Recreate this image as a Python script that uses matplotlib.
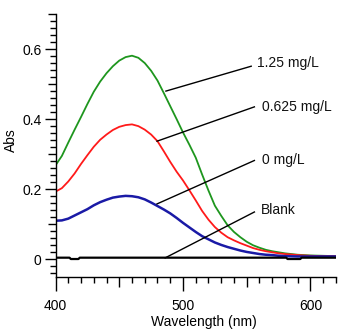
import matplotlib
matplotlib.use('Agg')
import matplotlib.pyplot as plt
from matplotlib.ticker import MultipleLocator, FixedLocator, FuncFormatter

plt.rcParams['font.family'] = ['Liberation Sans', 'DejaVu Sans']
plt.rcParams['font.size'] = 10

wavelength = [400, 405, 410, 415, 420, 425, 430, 435, 440, 445, 450, 455, 460,
              465, 470, 475, 480, 485, 490, 495, 500, 505, 510, 515, 520, 525,
              530, 535, 540, 545, 550, 555, 560, 565, 570, 575, 580, 590, 600,
              610, 620]
abs_125 = [0.268, 0.295, 0.333, 0.370, 0.406, 0.443, 0.478, 0.507, 0.531, 0.551,
           0.567, 0.577, 0.581, 0.575, 0.560, 0.538, 0.510, 0.474, 0.437, 0.400,
           0.362, 0.327, 0.290, 0.242, 0.196, 0.153, 0.124, 0.097, 0.078, 0.063,
           0.050, 0.040, 0.033, 0.027, 0.023, 0.020, 0.017, 0.013, 0.011, 0.010,
           0.009]
abs_0625 = [0.193, 0.203, 0.222, 0.245, 0.272, 0.297, 0.321, 0.341, 0.356, 0.369,
            0.378, 0.383, 0.385, 0.380, 0.370, 0.356, 0.337, 0.308, 0.278, 0.250,
            0.225, 0.197, 0.168, 0.138, 0.113, 0.092, 0.076, 0.063, 0.054, 0.046,
            0.039, 0.032, 0.027, 0.023, 0.020, 0.017, 0.015, 0.012, 0.010, 0.009,
            0.009]
abs_0 = [0.110, 0.111, 0.116, 0.125, 0.134, 0.143, 0.154, 0.163, 0.170, 0.176,
         0.179, 0.181, 0.180, 0.177, 0.171, 0.162, 0.152, 0.142, 0.131, 0.118,
         0.104, 0.091, 0.078, 0.066, 0.057, 0.048, 0.041, 0.035, 0.030, 0.025,
         0.021, 0.018, 0.015, 0.013, 0.012, 0.010, 0.009, 0.008, 0.008, 0.008,
         0.008]
blank_wl = [400, 411, 412, 418, 419, 581, 582, 592, 593, 620]
blank_abs = [0.0046, 0.0046, 0.0008, 0.0008, 0.0046, 0.0046, 0.0008, 0.0008, 0.0046, 0.0046]

labels = ['1.25 mg/L', '0.625 mg/L', '0 mg/L', 'Blank']
# leader line: point on curve -> end near label
lead_start = [(486.6, 0.480), (479.6, 0.337), (479.6, 0.158), (486.0, 0.004)]
lead_end = [(553.5, 0.551), (556.0, 0.435), (556.0, 0.282), (556.0, 0.135)]
label_pos = [(558.3, 0.560), (562.0, 0.436), (562.3, 0.284), (561.2, 0.141)]

fig = plt.figure(figsize=(3.63, 3.31), dpi=100)
ax = fig.add_axes([0.1529, 0.1637, 0.7727, 0.794])

ax.plot(wavelength, abs_125, color='#1e961e', lw=1.3)
ax.plot(wavelength, abs_0625, color='#ff1a1a', lw=1.3)
ax.plot(wavelength, abs_0, color='#1a1aa6', lw=1.8)
ax.plot(blank_wl, blank_abs, color='black', lw=1.6)

for lab, s, e, p in zip(labels, lead_start, lead_end, label_pos):
    ax.plot([s[0], e[0]], [s[1], e[1]], color='black', lw=1.0)
    ax.text(p[0], p[1], lab, ha='left', va='center', fontsize=10, color='#111111')

ax.set_xlim(400, 620)
ax.set_ylim(-0.05, 0.7)

for side in ['top', 'right']:
    ax.spines[side].set_visible(False)
ax.spines['left'].set_linewidth(1.0)
ax.spines['bottom'].set_linewidth(1.0)

ax.xaxis.set_major_locator(FixedLocator([400, 500, 600]))
ax.xaxis.set_minor_locator(MultipleLocator(10))
ax.yaxis.set_major_locator(FixedLocator([0, 0.2, 0.4, 0.6]))
ax.yaxis.set_minor_locator(MultipleLocator(0.02))
ax.yaxis.set_major_formatter(FuncFormatter(lambda v, p: '%g' % round(v, 2)))

ax.tick_params(axis='x', which='major', length=10, width=1.0, pad=6, labelsize=10)
ax.tick_params(axis='y', which='major', length=8, width=1.0, pad=2, labelsize=10)
ax.tick_params(which='minor', length=4, width=1.0)

# medium ticks every 50 nm / 0.1 Abs
for loc, t in zip(ax.xaxis.get_minorticklocs(), ax.xaxis.get_minor_ticks()):
    if abs(loc / 50 - round(loc / 50)) < 1e-6:
        t.tick1line.set_markersize(7)
for loc, t in zip(ax.yaxis.get_minorticklocs(), ax.yaxis.get_minor_ticks()):
    if abs(loc / 0.1 - round(loc / 0.1)) < 1e-6:
        t.tick1line.set_markersize(6)

ax.set_xlabel('Wavelength (nm)', fontsize=10)
ax.set_ylabel('Abs', fontsize=10)
ax.xaxis.set_label_coords(0.529, -0.145)
ax.yaxis.set_label_coords(-0.135, 0.52)

fig.savefig('out.png', dpi=100)
